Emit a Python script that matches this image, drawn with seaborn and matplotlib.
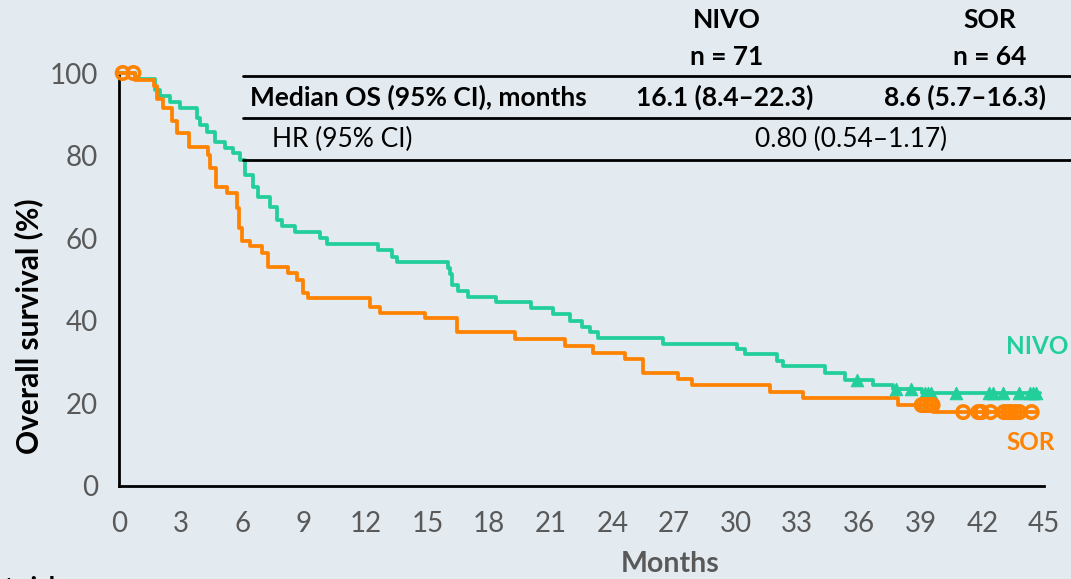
import numpy as np
import pandas as pd
import matplotlib
matplotlib.use("Agg")
import matplotlib.pyplot as plt
from matplotlib.lines import Line2D
import seaborn as sns

# ---------------- data ----------------
nivo_t = [0, 0.8, 1.75, 2.0, 2.5, 2.97, 3.78, 3.94, 4.27, 4.67, 5.16, 5.56, 5.89, 6.13,
          6.53, 6.78, 7.34, 7.67, 7.91, 8.56, 9.78, 10.1, 12.6, 13.28, 13.52, 16.0, 16.1,
          16.2, 16.49, 16.97, 18.34, 20.04, 21.1, 21.94, 22.52, 22.9, 23.3, 26.46, 30.06,
          30.45, 32.0, 32.3, 34.34, 35.3, 36.67, 37.65, 39.06, 44.8]
nivo_s = [100, 98.6, 95.8, 94.4, 93.0, 91.5, 89.0, 87.4, 85.7, 83.3, 81.8, 80.6, 78.9, 75.3,
          72.4, 70.0, 67.5, 64.5, 62.9, 61.4, 60.0, 58.6, 57.1, 55.5, 54.2, 52.7, 51.3,
          48.7, 47.3, 45.8, 44.5, 43.0, 41.6, 40.0, 38.6, 37.4, 35.9, 34.3, 33.2,
          31.9, 30.3, 29.1, 27.3, 25.7, 24.5, 23.4, 22.5, 22.5]
sor_t = [0, 0.8, 1.7, 1.85, 2.14, 2.58, 2.82, 3.4, 4.33, 4.43, 4.7, 5.25, 5.74, 5.85, 5.97,
         6.37, 6.96, 7.25, 8.22, 8.66, 8.95, 9.19, 12.2, 12.7, 14.88, 16.44, 19.26, 21.7,
         23.05, 24.6, 25.5, 27.2, 27.87, 31.66, 33.27, 37.9, 39.6, 44.55]
sor_s = [100, 98.4, 96.9, 93.8, 91.6, 88.3, 85.4, 82.2, 80.1, 77.1, 72.5, 70.9, 67.3, 62.4, 59.4,
         58.1, 56.5, 53.1, 51.5, 49.9, 46.7, 45.4, 43.4, 42.0, 40.6, 37.4, 35.5, 34.0,
         32.1, 30.8, 27.4, 25.8, 24.5, 22.8, 21.2, 19.6, 17.9, 17.9]
nivo_censored = [35.9, 37.8, 38.55, 39.2, 39.35, 39.5, 40.7, 42.3, 42.5, 43.0, 43.8, 44.3, 44.45, 44.6]
sor_censored = [0.18, 0.7, 39.05, 39.25, 39.45, 39.58, 41.07, 41.8, 41.96, 42.4, 43.05, 43.25,
                43.4, 43.6, 43.8, 44.4]

arms = ["NIVO", "SOR"]
x_ticks = list(range(0, 46, 3))
y_ticks = [0, 20, 40, 60, 80, 100]

table_header = ["NIVO", "SOR"]
table_n = ["n = 71", "n = 64"]
median_label = "Median OS (95% CI), months"
median_vals = ["16.1 (8.4\u201322.3)", "8.6 (5.7\u201316.3)"]
hr_label = "HR (95% CI)"
hr_val = "0.80 (0.54\u20131.17)"

# ---------------- styling ----------------
BG = "#e3ebf1"
GREEN = "#22cf9b"
ORANGE = "#ff8300"
GREY = "#595959"
TFS = 19

sns.set_theme(style="white")
plt.rcParams["font.family"] = ["Lato", "DejaVu Sans"]

W, H = 1071, 579
fx = lambda px: px / W
fy = lambda py: 1 - py / H

fig = plt.figure(figsize=(W / 100, H / 100), dpi=100, facecolor=BG)
ax = fig.add_axes([fx(119), fy(486), fx(1044) - fx(119), fy(73) - fy(486)])
ax.set_facecolor(BG)

curves = pd.concat([
    pd.DataFrame({"t": nivo_t, "s": nivo_s, "arm": "NIVO"}),
    pd.DataFrame({"t": sor_t, "s": sor_s, "arm": "SOR"}),
], ignore_index=True)
palette = {"NIVO": GREEN, "SOR": ORANGE}

sns.lineplot(data=curves, x="t", y="s", hue="arm", palette=palette,
             estimator=None, sort=False, drawstyle="steps-post",
             linewidth=2.7, legend=False, ax=ax, clip_on=False, zorder=3)


def step_value(times, surv, t):
    idx = np.searchsorted(np.asarray(times), t, side="right") - 1
    return np.asarray(surv)[idx]


cens_n = pd.DataFrame({"t": nivo_censored,
                       "s": [step_value(nivo_t, nivo_s, t) for t in nivo_censored]})
cens_s = pd.DataFrame({"t": sor_censored,
                       "s": [step_value(sor_t, sor_s, t) for t in sor_censored]})

sns.scatterplot(data=cens_n, x="t", y="s", marker="^", s=80, color=GREEN,
                edgecolor=GREEN, linewidth=0.8, ax=ax, clip_on=False, zorder=4)
sns.scatterplot(data=cens_s, x="t", y="s", marker="o", s=80, facecolor="none",
                edgecolor=ORANGE, linewidth=2.6, ax=ax, clip_on=False, zorder=4)

ax.set_xlim(0, 45)
ax.set_ylim(0, 100)
ax.set_xticks(x_ticks)
ax.set_yticks(y_ticks)
for side in ["top", "right"]:
    ax.spines[side].set_visible(False)
for side in ["left", "bottom"]:
    ax.spines[side].set_color("black")
    ax.spines[side].set_linewidth(2)
ax.tick_params(axis="both", direction="out", length=9, width=1.6, color="black",
               labelcolor=GREY, labelsize=20, pad=6)
ax.tick_params(axis="x", pad=9)
ax.set_xlabel("")
ax.set_ylabel("Overall survival (%)", fontsize=21.5, fontweight="bold", color="black")
ax.yaxis.set_label_coords(-0.082, 0.387)

fig.text(fx(670), fy(564), "Months", ha="center", va="center", fontsize=20.5,
         fontweight="bold", color=GREY)
fig.text(fx(-9), fy(588), "at risk:", ha="left", va="center", fontsize=19,
         fontweight="bold", color="black")

# curve labels
fig.text(fx(1068), fy(347), "NIVO", ha="right", va="center", fontsize=17.5,
         fontweight="bold", color=GREEN)
fig.text(fx(1055), fy(443), "SOR", ha="right", va="center", fontsize=17.5,
         fontweight="bold", color=ORANGE)

# summary table
col_x = [727, 990]
for cx, h, n in zip(col_x, table_header, table_n):
    fig.text(fx(cx), fy(20), h, ha="center", va="center", fontsize=TFS, fontweight="bold", color="black")
    fig.text(fx(cx), fy(57), n, ha="center", va="center", fontsize=TFS, fontweight="bold", color="black")
fig.text(fx(250), fy(97), median_label, ha="left", va="center", fontsize=TFS, fontweight="bold", color="black")
for cx, v in zip([725, 965], median_vals):
    fig.text(fx(cx), fy(97), v, ha="center", va="center", fontsize=TFS, fontweight="bold", color="black")
fig.text(fx(272), fy(139), hr_label, ha="left", va="center", fontsize=TFS, color="black")
fig.text(fx(851), fy(139), hr_val, ha="center", va="center", fontsize=TFS, color="black")
for ly in [76, 118, 160]:
    fig.add_artist(Line2D([fx(243), fx(1071)], [fy(ly), fy(ly)], color="black", lw=2))

fig.savefig("out.png", dpi=100, facecolor=BG)
